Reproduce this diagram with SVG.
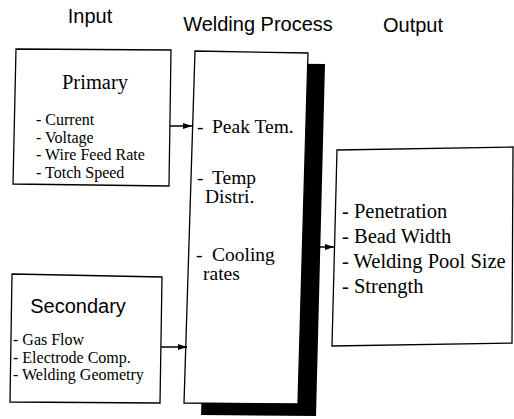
<svg xmlns="http://www.w3.org/2000/svg" width="514" height="419" viewBox="0 0 514 419">
<defs>
<style>
.box{fill:#fff;stroke:#000;stroke-width:1.3}
.shadow{fill:#000}
.hd{font-family:"Liberation Sans",Arial,sans-serif;font-size:20px;fill:#000}
.sr{font-family:"Liberation Serif","Times New Roman",serif;fill:#000}
.item{font-size:16px}
.big{font-size:19.5px}
.out{font-size:20.5px}
.conn{stroke:#000;stroke-width:1.5;fill:none}
</style>
<marker id="ah" markerWidth="10" markerHeight="8" refX="9" refY="4" orient="auto" markerUnits="userSpaceOnUse">
<path d="M0,1 L9,4 L0,7 Z" fill="#000"/>
</marker>
</defs>
<rect width="514" height="419" fill="#fff"/>
<g id="headers">
<text class="hd" x="90" y="23" text-anchor="middle">Input</text>
<text class="hd" x="258" y="31" text-anchor="middle">Welding Process</text>
<text class="hd" x="413" y="32" text-anchor="middle">Output</text>
</g>
<g id="primary">
<polygon class="box" points="16,49 171,50 169,186 13,184"/>
<text class="sr" x="95" y="89" text-anchor="middle" font-size="20.5">Primary</text>
<text class="sr item" x="36" y="125">- Current</text>
<text class="sr item" x="36" y="142.5">- Voltage</text>
<text class="sr item" x="36" y="160">- Wire Feed Rate</text>
<text class="sr item" x="36" y="177.5">- Totch Speed</text>
</g>
<g id="secondary">
<polygon class="box" points="12,274 162,277 160,403 10,402"/>
<text class="hd" x="78" y="313" text-anchor="middle" font-size="17.5">Secondary</text>
<text class="sr item" x="13" y="345">- Gas Flow</text>
<text class="sr item" x="13" y="362.5">- Electrode Comp.</text>
<text class="sr item" x="13" y="380">- Welding Geometry</text>
</g>
<g id="process">
<polygon class="shadow" points="212,63 325,64 316,416 201,415"/>
<polygon class="box" points="195,51 308,53 298,404 184,403"/>
<text class="sr big" x="197" y="133">-<tspan x="212">Peak Tem.</tspan></text>
<text class="sr big" x="197" y="184">-<tspan x="212">Temp</tspan></text>
<text class="sr big" x="205" y="203">Distri.</text>
<text class="sr big" x="196" y="261">-<tspan x="212">Cooling</tspan></text>
<text class="sr big" x="203" y="280">rates</text>
</g>
<g id="output">
<polygon class="box" points="337,150 513,147 512,343 332,346"/>
<text class="sr out" x="342" y="218">- Penetration</text>
<text class="sr out" x="342" y="243">- Bead Width</text>
<text class="sr out" x="342" y="268">- Welding Pool Size</text>
<text class="sr out" x="342" y="293">- Strength</text>
</g>
<g id="connectors">
<line class="conn" x1="170" y1="126" x2="192" y2="126" marker-end="url(#ah)"/>
<line class="conn" x1="161" y1="347" x2="187" y2="347" marker-end="url(#ah)"/>
<line class="conn" x1="317" y1="247" x2="334" y2="247" marker-end="url(#ah)"/>
</g>
</svg>
